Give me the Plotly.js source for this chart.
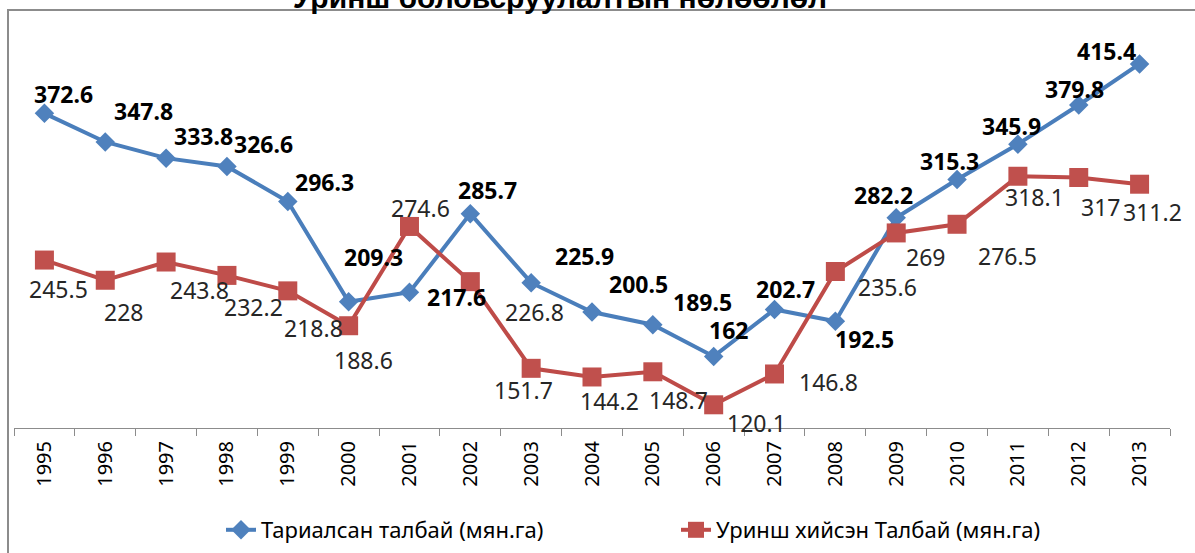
<!DOCTYPE html>
<html>
<head>
<meta charset="utf-8">
<script src="https://cdn.plot.ly/plotly-3.0.1.min.js"></script>
<style>html,body{margin:0;padding:0;background:#fff;}#chart{width:1195px;height:553px;}</style>
</head>
<body>
<div id="chart"></div>
<script>
const years = ["1995","1996","1997","1998","1999","2000","2001","2002","2003","2004","2005","2006","2007","2008","2009","2010","2011","2012","2013"];
const sownArea = [372.6, 347.8, 333.8, 326.6, 296.3, 209.3, 217.6, 285.7, 225.9, 200.5, 189.5, 162, 202.7, 192.5, 282.2, 315.3, 345.9, 379.8, 415.4];
const fallowArea = [245.5, 228, 243.8, 232.2, 218.8, 188.6, 274.6, 226.8, 151.7, 144.2, 148.7, 120.1, 146.8, 235.6, 269, 276.5, 318.1, 317, 311.2];
const seriesNames = ["Тариалсан талбай (мян.га)", "Уринш хийсэн Талбай (мян.га)"];
const titleText = "Уринш боловсруулалтын нөлөөлөл";

// label offsets in pixels (dx, dy downward) — placement only
const blueShift = [[19,-19],[38,-31],[37,-22],[37,-22],[37,-19],[25,-45],[47,5],[17,-24],[53,-27],[46,-28],[50,-23],[15,-26],[11,-20],[29,18],[-13,-23],[-8,-18],[-6,-18],[-4,-16],[-33,-13]];
const redShift = [[14,29],[18,32],[33,28],[27,32],[26,37],[15,34],[11,-18],[64,30],[-8,22],[17,24],[26,28],[43,18],[54,8],[52,16],[29,24],[50,32],[17,21],[22,29],[13,28]];

const FONT = "Noto Sans, Open Sans, sans-serif";
const annotations = [];
years.forEach((y, i) => {
  annotations.push({x: i, y: sownArea[i], xref: 'x', yref: 'y', text: '<b>' + sownArea[i] + '</b>', showarrow: false,
    xanchor: 'center', yanchor: 'middle',
    xshift: blueShift[i][0], yshift: -blueShift[i][1], font: {family: FONT, size: 23, color: '#000'}});
  annotations.push({x: i, y: fallowArea[i], xref: 'x', yref: 'y', text: String(fallowArea[i]), showarrow: false,
    xanchor: 'center', yanchor: 'middle',
    xshift: redShift[i][0], yshift: -redShift[i][1], font: {family: FONT, size: 23, color: '#262626'}});
});

const traces = [
  {x: years, y: sownArea, name: seriesNames[0], type: 'scatter', mode: 'lines+markers',
   line: {color: '#4A7EBB', width: 4}, marker: {symbol: 'diamond', size: 15, color: '#4F81BD'}},
  {x: years, y: fallowArea, name: seriesNames[1], type: 'scatter', mode: 'lines+markers',
   line: {color: '#BE4B48', width: 4}, marker: {symbol: 'square', size: 19, color: '#C0504D'}}
];

const layout = {
  width: 1195, height: 553,
  paper_bgcolor: '#fff', plot_bgcolor: 'rgba(0,0,0,0)',
  margin: {l: 14, r: 25, t: 24, b: 125},
  title: {text: '<b>' + titleText + '</b>', x: 560/1195, xanchor: 'center', y: 1 - 8/553, yanchor: 'bottom', yref: 'container',
          font: {family: 'Liberation Sans, Arial, sans-serif', size: 30, color: '#000'}},
  xaxis: {type: 'category', range: [-0.5, 18.5], showgrid: false, zeroline: false,
          showline: true, linecolor: '#8c8c8c', linewidth: 1,
          ticks: 'outside', ticklen: 7, tickcolor: '#8c8c8c', tickson: 'boundaries',
          ticklabelstandoff: 4,
          tickangle: -90, tickfont: {family: FONT, size: 20, color: '#000'}},
  yaxis: {range: [100, 450], visible: false, showgrid: false, zeroline: false},
  showlegend: true,
  legend: {orientation: 'h', xref: 'container', yref: 'container', x: 221/1195, xanchor: 'left',
           y: 1 - 530/553, yanchor: 'middle', entrywidth: 410,
           font: {family: FONT, size: 22, color: '#000'}},
  annotations: annotations,
  shapes: [{type: 'rect', xref: 'paper', yref: 'paper', x0: -6/1156, x1: 1.1, y0: -0.5, y1: 1 + 14/404,
            line: {color: '#8c8c8c', width: 2}, fillcolor: 'rgba(0,0,0,0)', layer: 'below'}]
};

Plotly.newPlot('chart', traces, layout, {displayModeBar: false, staticPlot: true}).catch(function(e){
  var d = document.createElement('pre'); d.textContent = String(e && e.stack || e); document.body.appendChild(d);
});
</script>
</body>
</html>
